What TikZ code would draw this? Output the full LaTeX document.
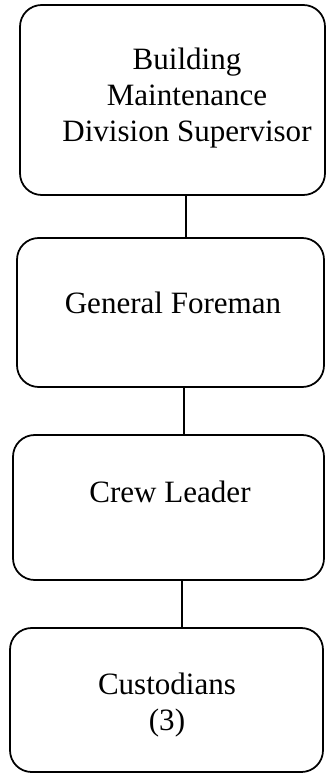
\documentclass[tikz,border=0pt]{standalone}
\usepackage{fontspec}
\setmainfont{Liberation Serif}
\tikzset{
  post/.style={draw=black,line width=1.5pt,rounded corners=0.65cm},
  postname/.style={align=center,inner sep=0pt,font=\fontsize{26.5}{30.7}\selectfont},
  link/.style={draw=black,line width=1.5pt}
}
\begin{document}
\begin{tikzpicture}
    \useasboundingbox (0,0) rectangle (9.78,-23.25);
    \node[post,minimum width=9.15cm,minimum height=5.70cm] (super)   at (5.175, -3.000) {};
    \node[post,minimum width=9.21cm,minimum height=4.47cm] (foreman) at (5.115, -9.375) {};
    \node[post,minimum width=9.33cm,minimum height=4.35cm] (leader)  at (5.055,-15.225) {};
    \node[post,minimum width=9.39cm,minimum height=4.32cm] (cust)    at (4.995,-21.000) {};
    \node[postname] (supert)   at (5.61, -2.94) {Building\\Maintenance\\Division Supervisor};
    \node[postname] (foremant) at (5.19, -9.09) {General Foreman};
    \node[postname] (leadert)  at (5.10,-14.76) {Crew Leader};
    \node[postname] (custt)    at (5.01,-21.15) {Custodians\\(3)};
    \draw[link] ([xshift=4mm]super.south)   -- ([xshift=4mm]super.south   |- foreman.north);
    \draw[link] ([xshift=4mm]foreman.south) -- ([xshift=4mm]foreman.south |- leader.north);
    \draw[link] ([xshift=4mm]leader.south)  -- ([xshift=4mm]leader.south  |- cust.north);
  \end{tikzpicture}
\end{document}
